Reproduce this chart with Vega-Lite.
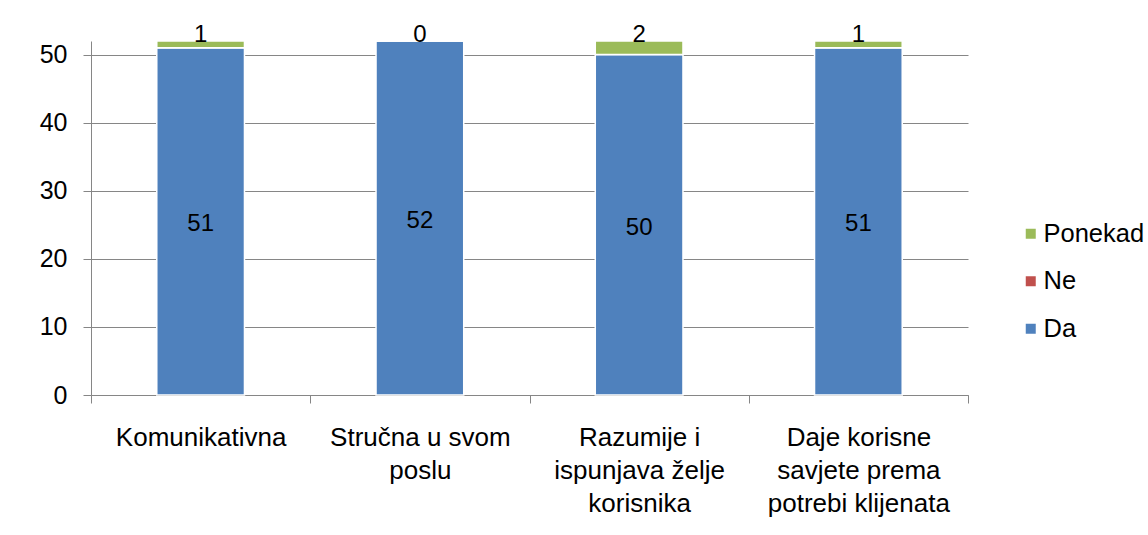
{
  "$schema": "https://vega.github.io/schema/vega-lite/v6.json",
  "width": 877,
  "height": 354,
  "autosize": "none",
  "padding": {"left": 91, "top": 41, "right": 180, "bottom": 140},
  "background": "white",
  "config": {"font": "Liberation Sans", "view": {"stroke": null}},
  "data": {
    "values": [
      {"kat": "Komunikativna", "odg": "Da", "n": 51, "red": 1},
      {"kat": "Komunikativna", "odg": "Ne", "n": 0, "red": 2},
      {"kat": "Komunikativna", "odg": "Ponekad", "n": 1, "red": 3},
      {"kat": "Stručna u svom poslu", "odg": "Da", "n": 52, "red": 1},
      {"kat": "Stručna u svom poslu", "odg": "Ne", "n": 0, "red": 2},
      {"kat": "Stručna u svom poslu", "odg": "Ponekad", "n": 0, "red": 3},
      {"kat": "Razumije i ispunjava želje korisnika", "odg": "Da", "n": 50, "red": 1},
      {"kat": "Razumije i ispunjava želje korisnika", "odg": "Ne", "n": 0, "red": 2},
      {"kat": "Razumije i ispunjava želje korisnika", "odg": "Ponekad", "n": 2, "red": 3},
      {"kat": "Daje korisne savjete prema potrebi klijenata", "odg": "Da", "n": 51, "red": 1},
      {"kat": "Daje korisne savjete prema potrebi klijenata", "odg": "Ne", "n": 0, "red": 2},
      {"kat": "Daje korisne savjete prema potrebi klijenata", "odg": "Ponekad", "n": 1, "red": 3}
    ]
  },
  "encoding": {
    "x": {
      "field": "kat",
      "type": "nominal",
      "sort": null,
      "scale": {"paddingInner": 0, "paddingOuter": 0},
      "axis": {
        "title": null,
        "labelAngle": 0,
        "tickBand": "extent",
        "labelFontSize": 26,
        "labelColor": "black",
        "labelLineHeight": 33,
        "labelPadding": 21,
        "labelLimit": 300,
        "tickSize": 8,
        "tickColor": "#868686",
        "domainColor": "#868686",
        "labelExpr": "datum.label == 'Stručna u svom poslu' ? ['Stručna u svom', 'poslu'] : datum.label == 'Razumije i ispunjava želje korisnika' ? ['Razumije i', 'ispunjava želje', 'korisnika'] : datum.label == 'Daje korisne savjete prema potrebi klijenata' ? ['Daje korisne', 'savjete prema', 'potrebi klijenata'] : datum.label"
      }
    }
  },
  "layer": [
    {
      "mark": {"type": "bar", "stroke": "white", "strokeWidth": 1.5, "width": {"band": 0.4}},
      "encoding": {
        "y": {
          "field": "n",
          "type": "quantitative",
          "stack": "zero",
          "scale": {"domain": [0, 52], "nice": false},
          "axis": {
            "title": null,
            "values": [0, 10, 20, 30, 40, 50],
            "grid": true,
            "gridColor": "#868686",
            "domainColor": "#868686",
            "tickColor": "#868686",
            "tickSize": 8,
            "labelFontSize": 25,
            "labelColor": "black",
            "labelPadding": 16
          }
        },
        "color": {
          "field": "odg",
          "type": "nominal",
          "scale": {"domain": ["Ponekad", "Ne", "Da"], "range": ["#9BBB59", "#C0504D", "#4F81BD"]},
          "legend": {
            "title": null,
            "orient": "none",
            "legendX": 927,
            "legendY": 180,
            "symbolType": "square",
            "symbolSize": 100,
            "symbolStrokeWidth": 0,
            "labelFontSize": 25.5,
            "labelColor": "black",
            "labelOffset": 0,
            "rowPadding": 20.5
          }
        },
        "order": {"field": "red", "type": "quantitative"}
      }
    },
    {
      "mark": {"type": "text", "fontSize": 24, "color": "black", "baseline": "middle", "dy": 3},
      "encoding": {
        "y": {"field": "n", "type": "quantitative", "stack": "zero", "bandPosition": 0.5},
        "text": {"field": "n", "type": "quantitative"},
        "opacity": {"condition": {"test": "datum.odg == 'Da'", "value": 1}, "value": 0},
        "order": {"field": "red", "type": "quantitative"}
      }
    },
    {
      "mark": {"type": "text", "fontSize": 24, "color": "black", "baseline": "alphabetic", "dy": 1},
      "encoding": {
        "y": {"field": "n", "type": "quantitative", "stack": "zero"},
        "text": {"field": "n", "type": "quantitative"},
        "opacity": {"condition": {"test": "datum.odg == 'Ponekad'", "value": 1}, "value": 0},
        "order": {"field": "red", "type": "quantitative"}
      }
    }
  ]
}
